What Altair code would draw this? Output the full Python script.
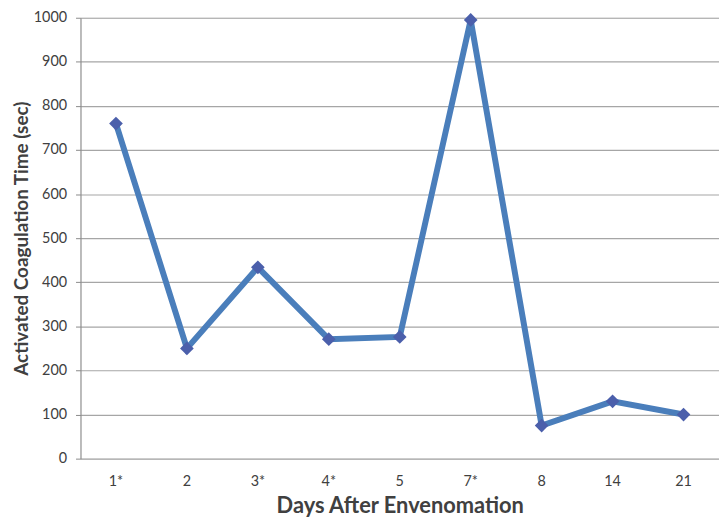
import altair as alt
import pandas as pd

days = ["1*", "2", "3*", "4*", "5", "7*", "8", "14", "21"]
act_sec = [760, 250, 434, 271, 276, 995, 75, 130, 100]

df = pd.DataFrame({"day": days, "act": act_sec})

FONT = "Lato"

x_enc = alt.X(
    "day:N",
    sort=days,
    scale=alt.Scale(type="band", paddingInner=0, paddingOuter=0),
    axis=alt.Axis(
        title="Days After Envenomation",
        labelAngle=0,
        domain=False,
        ticks=False,
        grid=False,
        labelPadding=16,
        titlePadding=8,
        labelFont=FONT,
        labelFontSize=14.5,
        labelColor="#404040",
        titleFont=FONT,
        titleFontSize=22,
        titleFontWeight="bold",
        titleColor="#404040",
    ),
)
y_enc = alt.Y(
    "act:Q",
    scale=alt.Scale(domain=[0, 1000], nice=False, zero=True),
    axis=alt.Axis(
        title="Activated Coagulation Time (sec)",
        values=list(range(0, 1001, 100)),
        format="d",
        domainColor="#8a8a8a",
        tickColor="#8a8a8a",
        tickSize=5,
        labelPadding=9,
        titlePadding=2,
        gridColor="#a6a6a6",
        gridWidth=1.2,
        labelFont=FONT,
        labelFontSize=14.5,
        labelColor="#404040",
        titleFont=FONT,
        titleFontSize=19,
        titleFontWeight="bold",
        titleColor="#404040",
    ),
)

line = alt.Chart(df).mark_line(color="#4a7ebb", strokeWidth=6).encode(x=x_enc, y=y_enc)
pts = alt.Chart(df).mark_point(
    shape="diamond", filled=True, size=190, color="#4b5fab", opacity=1
).encode(x=alt.X("day:N", sort=days), y="act:Q")

chart = (
    alt.layer(line, pts)
    .properties(
        width=643,
        height=444,
        autosize=alt.AutoSizeParams(type="none"),
        padding={"left": 73, "top": 8, "right": 0, "bottom": 62},
    )
    .configure_view(stroke=None)
    .configure(background="white")
)

chart.save("out.html", embed_options={"renderer": "svg", "actions": False})
